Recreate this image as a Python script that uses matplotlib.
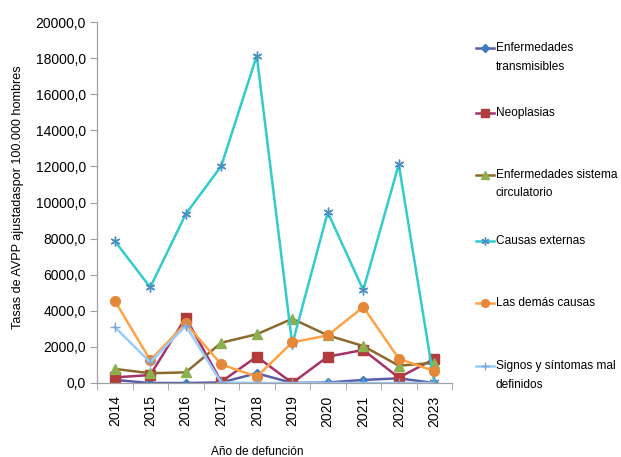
import matplotlib
matplotlib.use("Agg")
import matplotlib.pyplot as plt
from matplotlib.lines import Line2D
from matplotlib.ticker import FuncFormatter, MultipleLocator

plt.rcParams['font.family'] = ['Liberation Sans', 'DejaVu Sans']

years = ["2014", "2015", "2016", "2017", "2018", "2019", "2020", "2021", "2022", "2023"]

enf_transmisibles = [170, 0, 0, 30, 540, 0, 30, 170, 260, 0]
neoplasias = [310, 440, 3620, 70, 1460, 0, 1460, 1830, 300, 1330]
enf_circulatorio = [780, 540, 590, 2230, 2700, 3560, 2640, 2050, 960, 1120]
causas_externas = [7870, 5300, 9360, 12020, 18130, 2140, 9460, 5150, 12110, 30]
demas_causas = [4560, 1270, 3300, 1030, 350, 2250, 2640, 4210, 1350, 660]
signos_sintomas = [3100, 1150, 3170, 30, 0, 0, 0, 0, 0, 0]

series = [
    (["Enfermedades", "transmisibles"], enf_transmisibles,
     dict(color="#5B5EA6", marker="D", mfc="#3F7BC1", mec="#3F7BC1", ms=4.5)),
    (["Neoplasias"], neoplasias,
     dict(color="#A3336A", marker="s", mfc="#B23B3B", mec="#B23B3B", ms=6.5)),
    (["Enfermedades sistema", "circulatorio"], enf_circulatorio,
     dict(color="#8C6A2E", marker="^", mfc="#8DB04E", mec="#8DB04E", ms=7)),
    (["Causas externas"], causas_externas,
     dict(color="#33CCCC", marker=(6, 2, 0), mfc="#4A8FBF", mec="#4A8FBF", ms=7, mew=1.0)),
    (["Las demás causas"], demas_causas,
     dict(color="#FFA347", marker="o", mfc="#E6883A", mec="#E6883A", ms=7)),
    (["Signos y síntomas mal", "definidos"], signos_sintomas,
     dict(color="#99CCFF", marker="+", mfc="#7AA6D6", mec="#7AA6D6", ms=7, mew=1.0)),
]

W, H = 621, 457
fig = plt.figure(figsize=(W / 100, H / 100), dpi=100)
ax = fig.add_axes([97 / W, 1 - 383 / H, (452 - 97) / W, (383 - 22) / H])

x = list(range(len(years)))
for _, vals, st in series:
    ax.plot(x, vals, lw=1.8, **st)

ax.set_xlim(-0.5, len(years) - 0.5)
ax.set_ylim(0, 20000)
ax.yaxis.set_major_locator(MultipleLocator(2000))
ax.yaxis.set_major_formatter(FuncFormatter(lambda v, p: f"{v:.1f}".replace(".", ",")))
ax.set_xticks(x)
ax.set_xticklabels(years, rotation=90, fontsize=10)
ax.set_xticks([i - 0.5 for i in range(len(years) + 1)], minor=True)
ax.tick_params(axis="x", which="major", length=0, pad=9)
ax.tick_params(axis="x", which="minor", length=5, color="#A0A0A0")
ax.tick_params(axis="y", length=5, color="#A0A0A0", labelsize=10, pad=3)

for side in ("top", "right"):
    ax.spines[side].set_visible(False)
for side in ("left", "bottom"):
    ax.spines[side].set_color("#A0A0A0")
    ax.spines[side].set_linewidth(0.9)

fig.text(18 / W, 1 - 197 / H, "Tasas de AVPP ajustadaspor 100.000 hombres",
         rotation=90, ha="center", va="center", fontsize=9.1)
fig.text(257 / W, 1 - 452 / H, "Año de defunción", ha="center", va="center", fontsize=8.6)

# legend on the right, entries spread evenly
entry_y = [48, 113, 175, 241, 303, 366]
for (lines, _, st), yy in zip(series, entry_y):
    yf = 1 - yy / H
    fig.add_artist(Line2D([476 / W, 494 / W], [yf, yf], lw=1.8, color=st["color"]))
    mst = {k: v for k, v in st.items() if k != "color"}
    mst["ms"] = st["ms"] * 0.8
    fig.add_artist(Line2D([485 / W], [yf], lw=0, **mst))
    for j, t in enumerate(lines):
        fig.text(496 / W, 1 - (yy + 18.5 * j) / H, t, ha="left", va="center", fontsize=8.6)

fig.savefig("out.png", dpi=100)
